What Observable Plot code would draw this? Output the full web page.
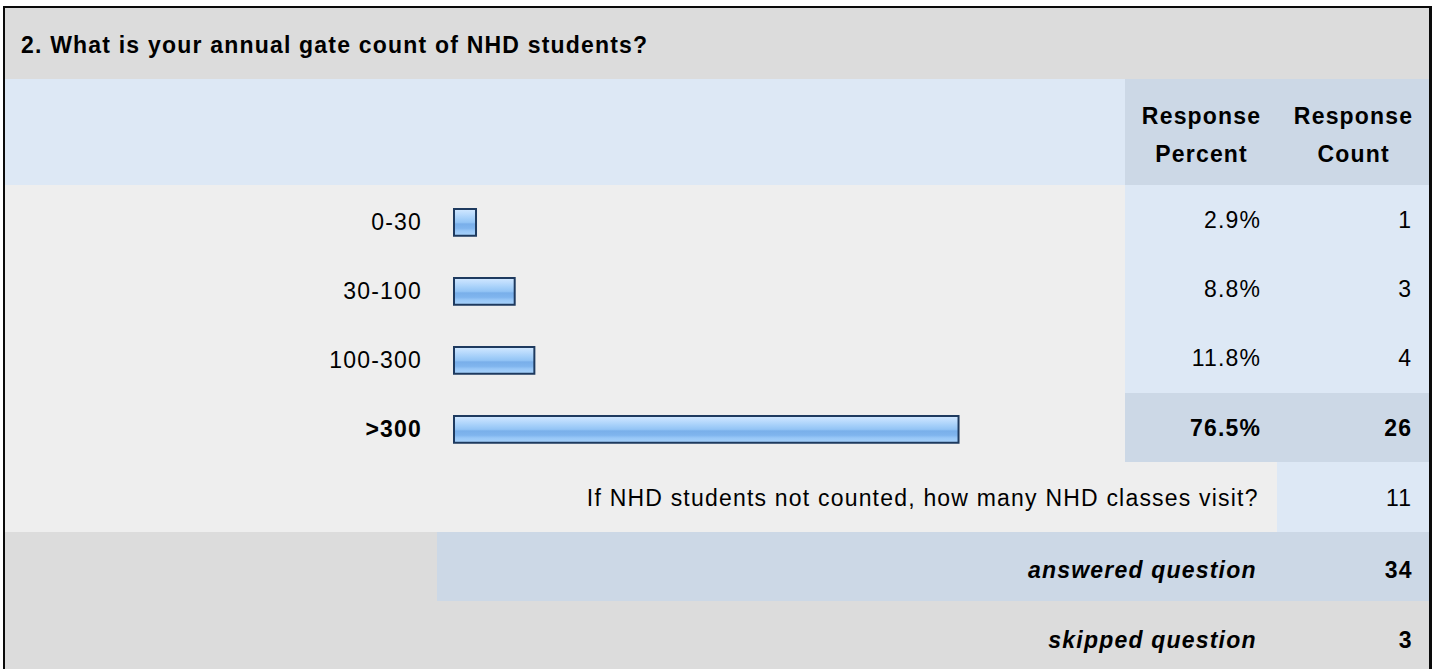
<!DOCTYPE html>
<html>
<head>
<meta charset="utf-8">
<script src="https://cdn.jsdelivr.net/npm/d3@7"></script>
<script src="https://cdn.jsdelivr.net/npm/@observablehq/plot@0.6"></script>
<style>
  html, body { margin: 0; padding: 0; background: #ffffff; }
  #frame {
    position: absolute; left: 0; top: 0; width: 1432px; height: 669px; overflow: hidden;
    font-family: "Liberation Sans", Arial, Helvetica, sans-serif; font-size: 23px;
    letter-spacing: 1.2px; color: #000;
  }
  .cell { position: absolute; }
  .t { position: absolute; white-space: nowrap; line-height: 30px; height: 30px; }
</style>
</head>
<body>
<div id="frame"></div>
<script>
// ---------------- data ----------------
const questionTitle = "2. What is your annual gate count of NHD students?";
const columnHeaders = [["Response", "Percent"], ["Response", "Count"]];
const categories = ["0-30", "30-100", "100-300", ">300"];
const percents = [2.9, 8.8, 11.8, 76.5];
const counts = [1, 3, 4, 26];
const highlightedCategory = ">300";
const otherLabel = "If NHD students not counted, how many NHD classes visit?";
const otherCount = 11;
const answeredLabel = "answered question";
const answeredCount = 34;
const skippedLabel = "skipped question";
const skippedCount = 3;

// ---------------- layout helpers ----------------
const frame = document.getElementById("frame");
const W = 1432;
const LS = 1.2;
function box(x0, y0, x1, y1, color) {
  const d = document.createElement("div");
  d.className = "cell";
  Object.assign(d.style, {left: x0 + "px", top: y0 + "px", width: (x1 - x0) + "px", height: (y1 - y0) + "px", background: color});
  frame.appendChild(d);
}
function label(str, opts) {
  const d = document.createElement("div");
  d.className = "t";
  d.textContent = str;
  d.style.top = (opts.baseline - 23.2) + "px";
  if (opts.right != null) { d.style.right = (W - opts.right - LS) + "px"; d.style.textAlign = "right"; }
  else if (opts.center != null) { d.style.left = (opts.center - 200 + LS / 2) + "px"; d.style.width = "400px"; d.style.textAlign = "center"; }
  else { d.style.left = opts.left + "px"; }
  if (opts.bold) d.style.fontWeight = "bold";
  if (opts.italic) d.style.fontStyle = "italic";
  frame.appendChild(d);
}

const GRAY_DARK = "#dcdcdc", GRAY_LIGHT = "#eeeeee", BLUE_LIGHT = "#dde8f5", BLUE_DARK = "#ccd8e6";
const L = 5, R = 1429, PCT0 = 1125, CNT0 = 1277;
const rowTop = 185, rowH = 69.25, barsBottom = rowTop + rowH * categories.length;

// title row
box(L, 8, R, 79, GRAY_DARK);
label(questionTitle, {left: 21, baseline: 53.5, bold: true});
// header row
box(L, 79, PCT0, rowTop, BLUE_LIGHT);
box(PCT0, 79, R, rowTop, BLUE_DARK);
const colCenters = [1201, 1353];
columnHeaders.forEach((lines, i) => {
  label(lines[0], {center: colCenters[i], baseline: 124.3, bold: true});
  label(lines[1], {center: colCenters[i], baseline: 161.7, bold: true});
});
// bar rows backgrounds + numbers
box(L, rowTop, PCT0, barsBottom, GRAY_LIGHT);
categories.forEach((c, i) => {
  const y0 = rowTop + rowH * i, hl = c === highlightedCategory;
  box(PCT0, y0, R, y0 + rowH + 0.5, hl ? BLUE_DARK : BLUE_LIGHT);
  const base = y0 + 43;
  label(percents[i].toFixed(1) + "%", {right: 1260, baseline: base, bold: hl});
  label(String(counts[i]), {right: 1411, baseline: base, bold: hl});
});
// other row
const r5 = barsBottom, r6 = 532, r7 = 601;
box(L, r5, CNT0, r6, GRAY_LIGHT);
box(CNT0, r5, R, r6, BLUE_LIGHT);
label(otherLabel, {right: 1257.5, baseline: 506});
label(String(otherCount), {right: 1411, baseline: 506});
// answered row
box(L, r6, 437, r7, GRAY_DARK);
box(437, r6, R, r7, BLUE_DARK);
label(answeredLabel, {right: 1255.5, baseline: 578.5, bold: true, italic: true});
label(String(answeredCount), {right: 1411.5, baseline: 578.5, bold: true});
// skipped row
box(L, r7, R, 680, GRAY_DARK);
label(skippedLabel, {right: 1255.5, baseline: 648, bold: true, italic: true});
label(String(skippedCount), {right: 1411.5, baseline: 648, bold: true});
// outer frame lines
box(3, 6, 1432, 8, "#0a0a0a");
box(3, 6, 5, 680, "#0a0a0a");
box(1429, 6, 1432, 680, "#0a0a0a");

// ---------------- bars via Plot ----------------
const rows = categories.map((c, i) => ({category: c, percent: percents[i], bold: c === highlightedCategory}));
const chart = Plot.plot({
  width: PCT0 - L,
  height: rowH * categories.length,
  marginLeft: 450.5, marginRight: 13.9, marginTop: 0, marginBottom: 0,
  x: {domain: [0, 100], axis: null},
  y: {domain: categories, axis: null, padding: 0},
  style: {background: "transparent", fontFamily: "'Liberation Sans', Arial, sans-serif", fontSize: "23px", letterSpacing: LS + "px", overflow: "visible", color: "#000"},
  marks: [
    Plot.barX(rows, {x: "percent", y: "category", fill: "url(#nhdBarGrad)", stroke: "#1e3a5f", strokeWidth: 2,
      insetTop: 23, insetBottom: 19.25, insetLeft: -1.5, insetRight: -1.5}),
    Plot.text(rows.filter(d => !d.bold), {x: d => 0, y: "category", text: "category", textAnchor: "end", dx: -34, dy: 1.2, fontSize: 23, fill: "#000"}),
    Plot.text(rows.filter(d => d.bold), {x: d => 0, y: "category", text: "category", textAnchor: "end", dx: -34, dy: 1.2, fontSize: 23, fontWeight: "bold", fill: "#000"})
  ]
});
// gradient definition for the glossy bars
const ns = "http://www.w3.org/2000/svg";
const defs = document.createElementNS(ns, "defs");
const grad = document.createElementNS(ns, "linearGradient");
grad.setAttribute("id", "nhdBarGrad");
grad.setAttribute("x1", "0"); grad.setAttribute("y1", "0"); grad.setAttribute("x2", "0"); grad.setAttribute("y2", "1");
[[0, "#d2e8ff"], [0.18, "#bcdcfd"], [0.36, "#a4cff9"], [0.5, "#93c4f5"], [0.56, "#79afea"], [0.72, "#80b5ee"], [0.82, "#98c7f7"], [1, "#a8d2fb"]].forEach(([o, c]) => {
  const s = document.createElementNS(ns, "stop");
  s.setAttribute("offset", o); s.setAttribute("stop-color", c);
  grad.appendChild(s);
});
defs.appendChild(grad);
chart.insertBefore(defs, chart.firstChild);
Object.assign(chart.style, {position: "absolute", left: L + "px", top: rowTop + "px"});
frame.appendChild(chart);
</script>
</body>
</html>
